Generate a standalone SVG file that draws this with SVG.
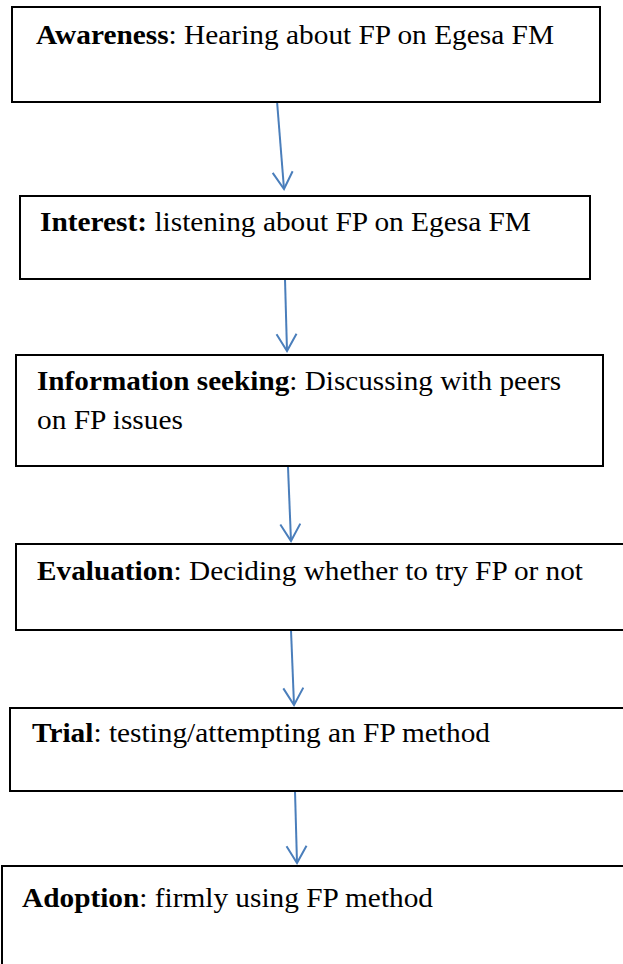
<svg xmlns="http://www.w3.org/2000/svg" width="623" height="964" viewBox="0 0 623 964">
<style>
.box{fill:#fff;stroke:#000;stroke-width:2}
.t{font-family:"Liberation Serif","Times New Roman",serif;font-size:27px;fill:#000}
.b{font-weight:bold}
.c{stroke:#4a7ebb;stroke-width:2;fill:none}
</style>
<defs>
<marker id="ah" markerWidth="22" markerHeight="24" refX="18" refY="11" orient="auto" markerUnits="userSpaceOnUse">
<path d="M1,1 L18,11 L1,21" fill="none" stroke="#4a7ebb" stroke-width="2"/>
</marker>
</defs>
<rect width="623" height="964" fill="#fff"/>
<g id="connectors">
<line class="c" x1="277" y1="101" x2="284" y2="189" marker-end="url(#ah)"/>
<line class="c" x1="285" y1="279" x2="287" y2="351" marker-end="url(#ah)"/>
<line class="c" x1="288" y1="467" x2="291" y2="541" marker-end="url(#ah)"/>
<line class="c" x1="291" y1="630" x2="294" y2="705" marker-end="url(#ah)"/>
<line class="c" x1="295" y1="791" x2="297" y2="863" marker-end="url(#ah)"/>
</g>
<g id="awareness">
<rect class="box" x="12" y="7" width="588" height="95"/>
<text class="t" x="36" y="44" textLength="518" lengthAdjust="spacingAndGlyphs"><tspan class="b">Awareness</tspan>: Hearing about FP on Egesa FM</text>
</g>
<g id="interest">
<rect class="box" x="20" y="196" width="570" height="83"/>
<text class="t" x="40" y="231" textLength="491" lengthAdjust="spacingAndGlyphs"><tspan class="b">Interest:</tspan> listening about FP on Egesa FM</text>
</g>
<g id="information-seeking">
<rect class="box" x="16" y="355" width="587" height="111"/>
<text class="t" x="37" y="390" textLength="524" lengthAdjust="spacingAndGlyphs"><tspan class="b">Information seeking</tspan>: Discussing with peers</text>
<text class="t" x="37" y="429" textLength="146" lengthAdjust="spacingAndGlyphs">on FP issues</text>
</g>
<g id="evaluation">
<rect class="box" x="16" y="544" width="612" height="86"/>
<text class="t" x="37" y="580" textLength="546" lengthAdjust="spacingAndGlyphs"><tspan class="b">Evaluation</tspan>: Deciding whether to try FP or not</text>
</g>
<g id="trial">
<rect class="box" x="10" y="708" width="620" height="83"/>
<text class="t" x="32" y="742" textLength="458" lengthAdjust="spacingAndGlyphs"><tspan class="b">Trial</tspan>: testing/attempting an FP method</text>
</g>
<g id="adoption">
<rect class="box" x="2" y="866" width="630" height="110"/>
<text class="t" x="22" y="907" textLength="411" lengthAdjust="spacingAndGlyphs"><tspan class="b">Adoption</tspan>: firmly using FP method</text>
</g>
</svg>
